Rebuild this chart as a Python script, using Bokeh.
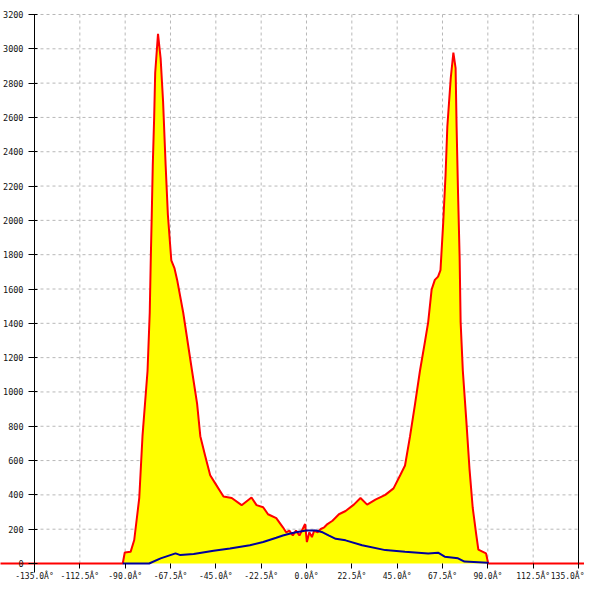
from bokeh.plotting import figure
from bokeh.models import Range1d, LinearAxis, FixedTicker, PrintfTickFormatter
from bokeh.embed import file_html
from bokeh.resources import INLINE

# ---- data ----
x_ticks = [-135.0, -112.5, -90.0, -67.5, -45.0, -22.5, 0.0, 22.5, 45.0, 67.5, 90.0, 112.5, 135.0]
y_ticks = [0, 200, 400, 600, 800, 1000, 1200, 1400, 1600, 1800, 2000, 2200, 2400,
           2600, 2800, 3000, 3200]

red_x = [-180, -91.2, -90.2, -87.3, -85.5, -83.0, -81.4, -78.9, -77.8, -77.3, -76.8,
         -76.3, -75.6, -75.1, -73.7, -72.4, -71.2, -69.9, -68.8, -67.1, -65.5, -64.2,
         -61.2, -56.8, -54.3, -52.7, -50.3, -47.8, -45.3, -41.2, -37.1, -32.2, -27.3,
         -24.8, -21.5, -19.1, -15.0, -11.7, -10.1, -8.5, -6.8, -5.2, -3.5, -1.9, -0.7,
         0.2, 1.4, 2.7, 3.8, 5.5, 7.1, 8.8, 10.4, 12.9, 14.5, 16.1, 19.4, 23.5, 26.8,
         30.1, 34.2, 39.1, 43.2, 46.5, 48.9, 51.4, 53.9, 56.3, 58.8, 60.4, 62.1, 63.7,
         65.3, 66.5, 67.8, 69.0, 69.9, 71.6, 72.9, 74.0, 74.5, 75.2, 76.0, 76.5, 77.6,
         79.3, 80.9, 82.5, 84.2, 85.3, 89.1, 90.2, 180]
red_y = [0, 0, 64, 68, 137, 382, 742, 1122, 1463, 1767, 2033,
         2318, 2603, 2859, 3087, 2944, 2697, 2318, 2033, 1767, 1720, 1653,
         1463, 1122, 932, 742, 628, 514, 467, 391, 382, 340, 385,
         340, 328, 287, 264, 211, 182, 192, 163, 192, 163, 201, 230,
         125, 182, 154, 192, 182, 201, 211, 230, 249, 268, 287, 306, 343, 382,
         343, 372, 400, 438, 514, 571, 742, 932, 1122, 1293, 1407, 1596, 1653,
         1672, 1710, 1975, 2260, 2546, 2830, 2978, 2887, 2546, 2166, 1786, 1407, 1122,
         837, 552, 325, 173, 81, 59, 0, 0]

blue_x = [-91.2, -78.1, -72.4, -65.0, -62.6, -56.0, -46.1, -38.0, -28.1, -21.5, -15.0,
          -11.7, -8.5, -5.2, -0.2, 4.7, 8.0, 11.2, 14.5, 19.4, 27.6, 39.1, 48.9, 60.4,
          65.3, 68.6, 75.2, 78.4, 89.9, 90.2]
blue_y = [0, 0, 30, 59, 49, 55, 74, 87, 106, 125, 150,
          163, 173, 182, 192, 192, 182, 163, 144, 135, 106, 78, 68, 59,
          63, 40, 30, 11, 5, 0]

x_grid = x_ticks[1:-1]
y_grid = y_ticks[1:]

# ---- figure ----
p = figure(width=584, height=584, output_backend="svg", toolbar_location=None,
           x_axis_type=None, y_axis_type=None,
           x_range=Range1d(-151.875, 137.98), y_range=Range1d(-122.4, 3281.6),
           min_border=0, outline_line_color=None)
p.background_fill_color = "white"
p.border_fill_color = "white"

grid_style = dict(line_color="#b8b8b8", line_width=1, line_dash="3 3")
p.segment(x0=x_grid, y0=[y_ticks[0]] * len(x_grid), x1=x_grid,
          y1=[y_ticks[-1]] * len(x_grid), **grid_style)
p.segment(x0=[x_ticks[0]] * len(y_grid), y0=y_grid, x1=[x_ticks[-1]] * len(y_grid),
          y1=y_grid, **grid_style)

p.varea(x=red_x, y1=[0] * len(red_x), y2=red_y, fill_color="#ffff00")
p.line(red_x, red_y, line_color="#ff0000", line_width=2)
p.line(blue_x, blue_y, line_color="#00009c", line_width=2)

label_font = "DejaVu Sans Mono"

xaxis = LinearAxis(fixed_location=0, ticker=FixedTicker(ticks=x_ticks),
                   formatter=PrintfTickFormatter(format="%.1fÂ°"),
                   bounds=(x_ticks[0], x_ticks[-1]),
                   axis_line_color=None,
                   major_tick_out=5, major_tick_in=0,
                   minor_tick_out=0, minor_tick_in=0,
                   major_label_text_font=label_font,
                   major_label_text_font_size="8px",
                   major_label_text_color="#111111",
                   major_label_standoff=3)
p.add_layout(xaxis, "below")

yaxis = LinearAxis(fixed_location=x_ticks[0], ticker=FixedTicker(ticks=y_ticks),
                   formatter=PrintfTickFormatter(format="%d"),
                   bounds=(-50, y_ticks[-1]),
                   axis_line_color="black", axis_line_width=1,
                   major_tick_out=6, major_tick_in=3,
                   minor_tick_out=0, minor_tick_in=0,
                   major_label_text_font=label_font,
                   major_label_text_font_size="8.5px",
                   major_label_text_color="#111111",
                   major_label_standoff=5)
p.add_layout(yaxis, "left")

raxis = LinearAxis(fixed_location=x_ticks[-1], ticker=FixedTicker(ticks=[]),
                   bounds=(y_ticks[0], y_ticks[-1]),
                   axis_line_color="black", axis_line_width=1,
                   major_tick_line_color=None, minor_tick_line_color=None,
                   major_label_text_color=None)
p.add_layout(raxis, "right")

open("out.html", "w").write(file_html(p, INLINE))
